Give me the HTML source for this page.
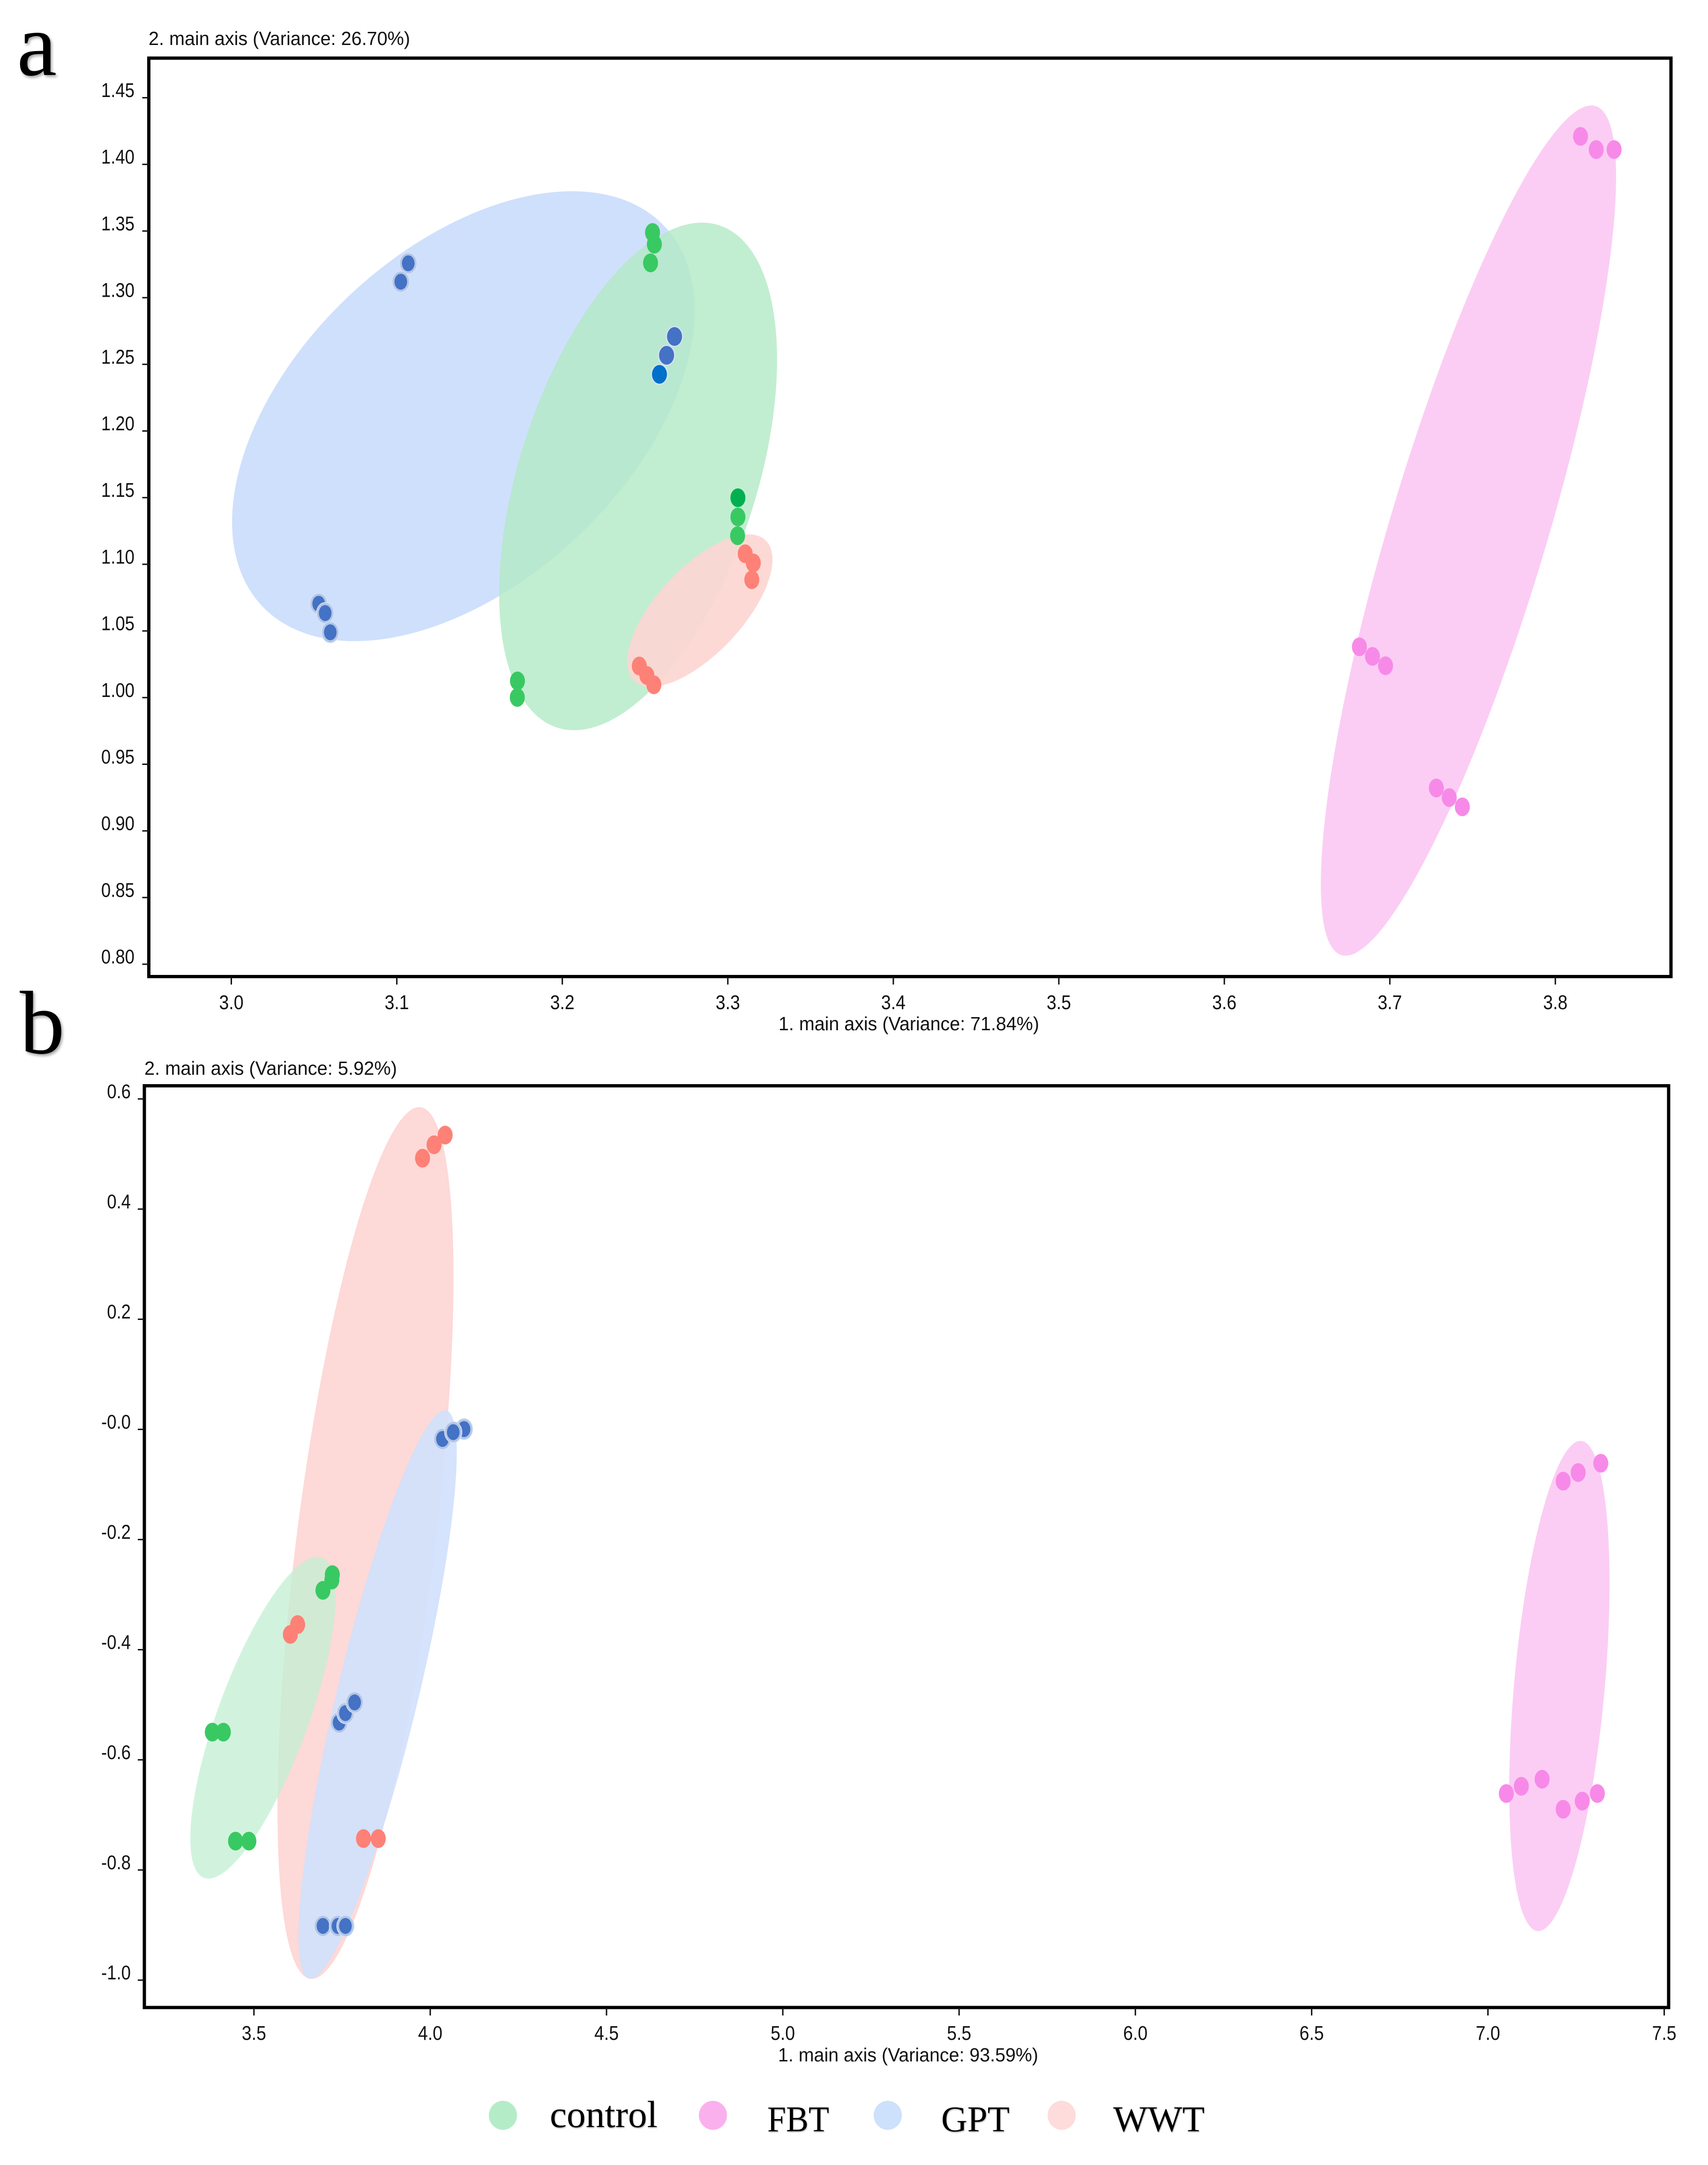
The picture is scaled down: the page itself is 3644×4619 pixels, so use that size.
<!DOCTYPE html>
<html lang="en">
<head>
<meta charset="utf-8">
<title>PCoA panels a and b</title>
<style>
html,body{margin:0;padding:0;background:#fff;}
svg{display:block;}
text{font-family:"Liberation Sans",Arial,sans-serif;fill:#111;}
.serif{font-family:"Liberation Serif","Times New Roman",serif;fill:#000;}
.letter{filter:drop-shadow(3px 4px 3px rgba(0,0,0,.35));}
.legend-text{filter:drop-shadow(1px 2px 1px rgba(0,0,0,.3));}
</style>
</head>
<body>
<svg id="fig" xmlns="http://www.w3.org/2000/svg" width="3644" height="4619" viewBox="0 0 3644 4619">
  <rect x="0" y="0" width="3644" height="4619" fill="#ffffff"/>
  <g id="panelA"></g>
  <g id="panelB"></g>

  <text class="serif letter" x="36" y="160" font-size="192">a</text>
  <text class="serif letter" x="42" y="2247" font-size="192">b</text>

  <text x="317" y="96" font-size="41" textLength="558" lengthAdjust="spacingAndGlyphs">2. main axis (Variance: 26.70%)</text>
  <text x="1661" y="2198" font-size="41" textLength="556" lengthAdjust="spacingAndGlyphs">1. main axis (Variance: 71.84%)</text>
  <text x="308" y="2293" font-size="41" textLength="539" lengthAdjust="spacingAndGlyphs">2. main axis (Variance: 5.92%)</text>
  <text x="1660" y="4398" font-size="41" textLength="555" lengthAdjust="spacingAndGlyphs">1. main axis (Variance: 93.59%)</text>

  <g>
    <g>
      <ellipse cx="1073" cy="4513" rx="30" ry="31" fill="#b4ecc8"/>
      <text class="serif legend-text" x="1173" y="4538" font-size="80" textLength="230" lengthAdjust="spacingAndGlyphs">control</text>
    </g>
    <g>
      <ellipse cx="1521" cy="4513" rx="30" ry="31" fill="#fbb0ee"/>
      <text class="serif legend-text" x="1637" y="4547" font-size="77" textLength="132" lengthAdjust="spacingAndGlyphs">FBT</text>
    </g>
    <g>
      <ellipse cx="1894" cy="4513" rx="30" ry="31" fill="#cde0fc"/>
      <text class="serif legend-text" x="2008" y="4547" font-size="77" textLength="146" lengthAdjust="spacingAndGlyphs">GPT</text>
    </g>
    <g>
      <ellipse cx="2265" cy="4513" rx="30" ry="31" fill="#fddcdb"/>
      <text class="serif legend-text" x="2375" y="4547" font-size="77" textLength="195" lengthAdjust="spacingAndGlyphs">WWT</text>
    </g>
  </g>
</svg>
<script>
/* ---------- Panel a data ---------- */
const aXTicks = [3.0, 3.1, 3.2, 3.3, 3.4, 3.5, 3.6, 3.7, 3.8];
const aXTickLabels = ['3.0','3.1','3.2','3.3','3.4','3.5','3.6','3.7','3.8'];
const aYTicks = [0.80,0.85,0.90,0.95,1.00,1.05,1.10,1.15,1.20,1.25,1.30,1.35,1.40,1.45];
const aYTickLabels = ['0.80','0.85','0.90','0.95','1.00','1.05','1.10','1.15','1.20','1.25','1.30','1.35','1.40','1.45'];

const aGptX = [3.1069,3.1024,3.2678,3.2630,3.2587,3.0528,3.0567,3.0598];
const aGptY = [1.3258,1.3120,1.2709,1.2568,1.2425,1.0704,1.0634,1.0490];
const aControlX = [3.2545,3.2556,3.2533,3.3061,3.3061,3.3059,3.1729,3.1728];
const aControlY = [1.3489,1.3401,1.3261,1.1499,1.1355,1.1214,1.0125,1.0001];
const aWwtX = [3.3105,3.3154,3.3145,3.2465,3.2511,3.2553];
const aWwtY = [1.1079,1.1010,1.0884,1.0237,1.0166,1.0096];
const aFbtX = [3.8152,3.8247,3.8355,3.6816,3.6895,3.6974,3.7281,3.7359,3.7438];
const aFbtY = [1.4210,1.4111,1.4111,1.0381,1.0309,1.0239,0.9322,0.9250,0.9180];

/* confidence ellipses: centre, half-extent on each axis, correlation */
const aEllipseGroups = ['gpt','control','wwt','fbt'];
const aEllipseCx = [3.1402,3.2458,3.2831,3.7475];
const aEllipseCy = [1.2111,1.1659,1.0653,1.1253];
const aEllipseHx = [0.13976,0.08397,0.0439,0.08921];
const aEllipseHy = [0.16878,0.1904,0.05714,0.31892];
const aEllipseRho = [0.47,0.46,0.67,0.832];

/* ---------- Panel b data ---------- */
const bXTicks = [3.5,4.0,4.5,5.0,5.5,6.0,6.5,7.0,7.5];
const bXTickLabels = ['3.5','4.0','4.5','5.0','5.5','6.0','6.5','7.0','7.5'];
const bYTicks = [0.6,0.4,0.2,0,-0.2,-0.4,-0.6,-0.8,-1.0];
const bYTickLabels = ['0.6','0.4','0.2','-0.0','-0.2','-0.4','-0.6','-0.8','-1.0'];

const bControlX = [3.7223,3.7210,3.6957,3.3819,3.4132,3.4478,3.4856];
const bControlY = [-0.2637,-0.2735,-0.2923,-0.5497,-0.5497,-0.7476,-0.7476];
const bFbtX = [7.3201,7.2559,7.2134,7.0521,7.0947,7.1536,7.2134,7.2675,7.3104];
const bFbtY = [-0.0614,-0.0783,-0.0940,-0.6612,-0.6480,-0.6352,-0.6897,-0.6749,-0.6612];
const bGptX = [4.0959,4.0347,4.0653,3.7416,3.7595,3.7856,3.6957,3.7382,3.7595];
const bGptY = [0.0005,-0.0174,-0.0050,-0.5323,-0.5152,-0.4957,-0.9016,-0.9016,-0.9016];
const bWwtX = [4.0423,4.0108,3.9782,3.6239,3.6032,3.8107,3.8526];
const bWwtY = [0.5344,0.5168,0.4924,-0.3544,-0.3723,-0.7430,-0.7430];

const bEllipseGroups = ['wwt','gpt','control','fbt'];
const bEllipseCx = [3.8164,3.8509,3.5255,7.2027];
const bEllipseCy = [-0.2063,-0.4816,-0.5233,-0.4659];
const bEllipseHx = [0.24967,0.22434,0.20606,0.14225];
const bEllipseHy = [0.79149,0.51617,0.29234,0.44511];
const bEllipseRho = [0.61,0.85,0.75,0.42];

/* ---------- Axis functions ---------- */
function aXScale(v){ return 493.5 + (v - 3.0) * 3531; }
function aYScale(v){ return 208.5 + (1.45 - v) * 2844; }
function bXScale(v){ return 541.8 + (v - 3.5) * 752.2; }
function bYScale(v){ return 2344.6 + (0.6 - v) * 1175; }

const NS = 'http://www.w3.org/2000/svg';
function make(tag, parent){
  const el = document.createElementNS(NS, tag);
  parent.appendChild(el);
  return el;
}

function drawEllipses(parent, panel, xs, ys, groups, cx, cy, hx, hy, rho, fills){
  groups.forEach(function(group, i){
    const root = Math.sqrt(1 - rho[i] * rho[i]);
    let d = '';
    for (let k = 0; k < 180; k++){
      const t = k / 180 * 2 * Math.PI;
      const px = xs(cx[i] + hx[i] * Math.cos(t));
      const py = ys(cy[i] + hy[i] * (rho[i] * Math.cos(t) + root * Math.sin(t)));
      d += (k ? 'L' : 'M') + px.toFixed(1) + ' ' + py.toFixed(1);
    }
    const el = make('path', parent);
    el.setAttribute('d', d + 'Z');
    el.setAttribute('fill', fills[group]);
    
    
  });
}

function drawPoints(parent, panel, group, xs, ys, xv, yv, style){
  xv.forEach(function(v, i){
    const s = style(i);
    if (s.halo){
      const h = make('ellipse', parent);
      h.setAttribute('cx', xs(v));
      h.setAttribute('cy', ys(yv[i]));
      h.setAttribute('rx', s.haloRx);
      h.setAttribute('ry', s.haloRy);
      h.setAttribute('fill', s.halo);
      h.setAttribute('stroke', '#dbe4f5');
      h.setAttribute('stroke-width', '1.5');
      
      
    }
    const el = make('ellipse', parent);
    el.setAttribute('cx', xs(v));
    el.setAttribute('cy', ys(yv[i]));
    el.setAttribute('rx', s.rx);
    el.setAttribute('ry', s.ry);
    el.setAttribute('fill', s.fill);
    
    
  });
}

function squeeze(el, factor){
  const len = el.getComputedTextLength();
  el.setAttribute('textLength', (len * factor).toFixed(1));
  el.setAttribute('lengthAdjust', 'spacingAndGlyphs');
}

function drawAxes(parent, panel, box, xs, ys, xTicks, xLabels, yTicks, yLabels, cfg){
  const frame = make('rect', parent);
  frame.setAttribute('x', box.left);
  frame.setAttribute('y', box.top);
  frame.setAttribute('width', box.right - box.left);
  frame.setAttribute('height', box.bottom - box.top);
  frame.setAttribute('fill', 'none');
  frame.setAttribute('stroke', '#000');
  frame.setAttribute('stroke-width', '7');
  
  

  xTicks.forEach(function(v, i){
    const t = make('line', parent);
    t.setAttribute('x1', xs(v));
    t.setAttribute('x2', xs(v));
    t.setAttribute('y1', box.bottom);
    t.setAttribute('y2', box.bottom + 17);
    t.setAttribute('stroke', '#111');
    t.setAttribute('stroke-width', '3');
    
    
    const l = make('text', parent);
    l.setAttribute('x', xs(v));
    l.setAttribute('y', cfg.xLabelY);
    l.setAttribute('font-size', '43');
    l.setAttribute('text-anchor', 'middle');
    l.textContent = xLabels[i];
    
    
    squeeze(l, 0.87);
  });

  yTicks.forEach(function(v, i){
    const t = make('line', parent);
    t.setAttribute('x1', box.left - 14);
    t.setAttribute('x2', box.left);
    t.setAttribute('y1', ys(v));
    t.setAttribute('y2', ys(v));
    t.setAttribute('stroke', '#111');
    t.setAttribute('stroke-width', '3');
    
    
    const l = make('text', parent);
    l.setAttribute('x', cfg.yLabelX);
    l.setAttribute('y', ys(v) - 1.5);
    l.setAttribute('font-size', '43');
    l.setAttribute('text-anchor', 'end');
    l.textContent = yLabels[i];
    
    
    squeeze(l, 0.85);
  });
}

const plainGreen = {rx:16, ry:20, fill:'#39c963'};
const plainRed = {rx:16, ry:20, fill:'#fd8176'};
const plainPink = {rx:16, ry:20, fill:'#f78ae8'};
const haloBlue = {rx:13.5, ry:17, fill:'#4472c4', halo:'#b3c6e8', haloRx:18.5, haloRy:22.5};

/* ---------- Panel a ---------- */
const gA = document.getElementById('panelA');
const aFills = {
  gpt:'#cfe0fc',
  control:'rgba(178,234,196,.8)',
  wwt:'rgba(253,213,210,.9)',
  fbt:'#fbcdf4'
};
drawEllipses(gA, 'panel-a', aXScale, aYScale, aEllipseGroups, aEllipseCx, aEllipseCy, aEllipseHx, aEllipseHy, aEllipseRho, aFills);
drawPoints(gA, 'panel-a', 'wwt', aXScale, aYScale, aWwtX, aWwtY, function(){ return plainRed; });
drawPoints(gA, 'panel-a', 'control', aXScale, aYScale, aControlX, aControlY, function(i){
  return i === 3 ? {rx:16, ry:20, fill:'#00b050'} : plainGreen;
});
drawPoints(gA, 'panel-a', 'gpt', aXScale, aYScale, aGptX, aGptY, function(i){
  if (i === 4) return {rx:16, ry:20, fill:'#0070c8', halo:'#dbe4f5', haloRx:17.5, haloRy:21.5};
  if (i === 2 || i === 3) return {rx:16, ry:20, fill:'#4472c4', halo:'#d3ddf2', haloRx:17.5, haloRy:21.5};
  return haloBlue;
});
drawPoints(gA, 'panel-a', 'fbt', aXScale, aYScale, aFbtX, aFbtY, function(){ return plainPink; });
drawAxes(gA, 'panel-a', {left:317.5, right:3565, top:124, bottom:2083.5}, aXScale, aYScale,
  aXTicks, aXTickLabels, aYTicks, aYTickLabels, {xLabelY:2153, yLabelX:287});

/* ---------- Panel b ---------- */
const gB = document.getElementById('panelB');
const bFills = {
  wwt:'#fdd9d7',
  gpt:'rgba(208,224,253,.9)',
  control:'rgba(194,239,211,.75)',
  fbt:'#fbcdf4'
};
drawEllipses(gB, 'panel-b', bXScale, bYScale, bEllipseGroups, bEllipseCx, bEllipseCy, bEllipseHx, bEllipseHy, bEllipseRho, bFills);
drawPoints(gB, 'panel-b', 'wwt', bXScale, bYScale, bWwtX, bWwtY, function(){ return plainRed; });
drawPoints(gB, 'panel-b', 'control', bXScale, bYScale, bControlX, bControlY, function(){ return plainGreen; });
drawPoints(gB, 'panel-b', 'gpt', bXScale, bYScale, bGptX, bGptY, function(){ return haloBlue; });
drawPoints(gB, 'panel-b', 'fbt', bXScale, bYScale, bFbtX, bFbtY, function(){ return plainPink; });
drawAxes(gB, 'panel-b', {left:308, right:3560, top:2316.5, bottom:4283}, bXScale, bYScale,
  bXTicks, bXTickLabels, bYTicks, bYTickLabels, {xLabelY:4352, yLabelX:279});
</script>
</body>
</html>
